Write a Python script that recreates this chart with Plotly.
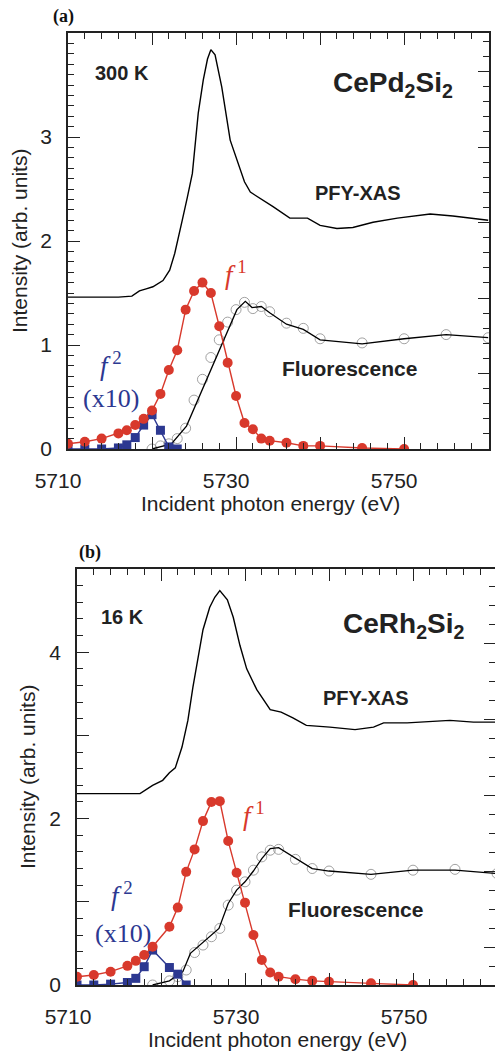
import plotly.graph_objects as go

W, H = 495, 1051

# ---------------- Panel (a) CePd2Si2, 300 K ----------------
a_pfy_e = [5710, 5712, 5714, 5716, 5717.6, 5718.5, 5719.3, 5720.1, 5721.3, 5722.1, 5722.7, 5723.0,
           5723.6, 5724.2, 5724.8, 5725.5, 5726.1, 5726.6, 5727.0, 5727.5, 5728.3, 5729.3, 5730.5,
           5731.0, 5731.7, 5732.9, 5734.4, 5736.4, 5738.5, 5740.0, 5742.0, 5743.9, 5746.3, 5749.2,
           5751.5, 5753.1, 5755.8, 5758.2, 5760.0]
a_pfy_i = [1.46, 1.46, 1.46, 1.46, 1.47, 1.52, 1.54, 1.56, 1.62, 1.72, 1.88, 1.98,
           2.20, 2.42, 2.65, 3.23, 3.55, 3.75, 3.84, 3.79, 3.48, 2.97, 2.68,
           2.57, 2.47, 2.41, 2.33, 2.22, 2.22, 2.15, 2.12, 2.13, 2.18, 2.22,
           2.24, 2.26, 2.24, 2.22, 2.20]

a_fl_e = [5720, 5721, 5722, 5723, 5724, 5725, 5726, 5727, 5728, 5729, 5730, 5731, 5732, 5733,
          5734, 5736, 5738, 5740, 5745, 5750, 5755, 5760]
a_fl_i = [0.0, 0.03, 0.05, 0.10, 0.20, 0.47, 0.67, 0.88, 1.05, 1.22, 1.34, 1.41, 1.35, 1.37,
          1.32, 1.21, 1.16, 1.06, 1.02, 1.06, 1.10, 1.07]

a_flline_e = [5720, 5722.3, 5724.1, 5730.1, 5731.1, 5731.9, 5733, 5734, 5736, 5738, 5740,
              5745, 5750, 5755, 5760]
a_flline_i = [0.0, 0.05, 0.22, 1.34, 1.42, 1.36, 1.37, 1.31, 1.20, 1.15, 1.05,
              1.01, 1.06, 1.10, 1.07]

a_f1_e = [5710, 5712, 5714, 5716, 5717, 5718, 5719, 5720, 5721, 5722, 5723, 5724, 5725, 5726,
          5727, 5728, 5729, 5730, 5731, 5732, 5733, 5734, 5736, 5738, 5740, 5745, 5750]
a_f1_i = [0.05, 0.07, 0.10, 0.15, 0.18, 0.23, 0.29, 0.37, 0.53, 0.76, 0.95, 1.34, 1.52, 1.60,
          1.50, 1.18, 0.83, 0.51, 0.25, 0.19, 0.10, 0.08, 0.06, 0.03, 0.03, 0.01, 0.0]

a_f2_e = [5710, 5712, 5714, 5716, 5717, 5718, 5719, 5720, 5721, 5722, 5723]
a_f2_i = [0.0, 0.0, 0.0, 0.01, 0.04, 0.11, 0.23, 0.33, 0.18, 0.02, 0.0]

# ---------------- Panel (b) CeRh2Si2, 16 K ----------------
b_pfy_e = [5710, 5714, 5717.5, 5719.0, 5720.2, 5721.0, 5721.7, 5722.5, 5723.2, 5723.8, 5724.4,
           5725.0, 5725.8, 5726.4, 5727.0, 5727.9, 5728.6, 5729.4, 5730.2, 5731.4, 5733.0,
           5734.3, 5735.7, 5737.3, 5740.1, 5743.1, 5745.3, 5746.5, 5749.3, 5752.0, 5754.4,
           5757.2, 5759.8]
b_pfy_i = [2.30, 2.30, 2.30, 2.40, 2.46, 2.55, 2.61, 2.86, 3.18, 3.58, 3.91,
           4.27, 4.54, 4.66, 4.74, 4.63, 4.42, 4.08, 3.80, 3.55, 3.31,
           3.28, 3.21, 3.12, 3.10, 3.07, 3.10, 3.15, 3.15, 3.17, 3.18,
           3.16, 3.16]

b_fl_e = [5719, 5721, 5722, 5723, 5724, 5725, 5726, 5727, 5728, 5729, 5730, 5731, 5732, 5733,
          5734, 5736, 5738, 5740, 5745, 5750, 5755, 5760]
b_fl_i = [0.0, 0.05, 0.10, 0.18, 0.39, 0.48, 0.58, 0.68, 0.96, 1.14, 1.24, 1.38, 1.54, 1.62,
          1.63, 1.51, 1.40, 1.37, 1.33, 1.38, 1.39, 1.34]

b_flline_e = [5719, 5721, 5722, 5722.6, 5723.5, 5726.9, 5728, 5729, 5730, 5731, 5732, 5733,
              5734, 5738, 5740, 5745, 5750, 5755, 5760]
b_flline_i = [0.0, 0.05, 0.12, 0.16, 0.38, 0.68, 0.98, 1.14, 1.24, 1.37, 1.52, 1.64,
              1.65, 1.40, 1.37, 1.33, 1.38, 1.38, 1.34]

b_f1_e = [5710, 5712, 5714, 5716, 5717, 5718, 5719, 5721, 5722, 5723, 5724, 5725, 5726, 5727,
          5728, 5729, 5730, 5731, 5732, 5733, 5734, 5736, 5738, 5740, 5745, 5750]
b_f1_i = [0.10, 0.12, 0.16, 0.23, 0.29, 0.36, 0.46, 0.70, 0.93, 1.36, 1.63, 1.97, 2.20, 2.21,
          1.73, 1.35, 0.99, 0.60, 0.30, 0.15, 0.10, 0.07, 0.05, 0.04, 0.02, 0.0]

b_f2_e = [5710, 5712, 5714, 5716, 5717, 5718, 5719, 5721, 5722, 5723]
b_f2_i = [0.0, 0.0, 0.01, 0.03, 0.08, 0.22, 0.42, 0.21, 0.13, 0.0]

x_tickvals = [5710, 5720, 5730, 5740, 5750, 5760]
x_ticktext = ["5710", "", "5730", "", "5750", ""]
a_y_tickvals = [0, 1, 2, 3]
a_y_ticktext = ["0", "1", "2", "3"]
b_y_tickvals = [0, 1, 2, 3, 4, 5]
b_y_ticktext = ["0", "", "2", "", "4", ""]

RED = "#d8392c"
BLUE = "#2c3891"
GRAY = "#8a8a8a"
INK = "#222222"
SANS = "Liberation Sans, Arial, sans-serif"
SERIF = "Liberation Serif, Times New Roman, serif"


def px(x):
    return x / W


def py(y):
    return 1 - y / H


fig = go.Figure()


def add_panel(xa, ya, pe, pi, fe, fi, fle, fli, f1e, f1i, f2e, f2i):
    fig.add_trace(go.Scatter(x=pe, y=pi, mode="lines", line=dict(color="black", width=1.4),
                             xaxis=xa, yaxis=ya, showlegend=False, hoverinfo="skip"))
    fig.add_trace(go.Scatter(x=fe, y=fi, mode="markers",
                             marker=dict(symbol="circle-open", size=10, color=GRAY,
                                         line=dict(width=0.8, color=GRAY)),
                             xaxis=xa, yaxis=ya, showlegend=False, hoverinfo="skip"))
    fig.add_trace(go.Scatter(x=fle, y=fli, mode="lines", line=dict(color="black", width=1.3),
                             xaxis=xa, yaxis=ya, showlegend=False, hoverinfo="skip"))
    fig.add_trace(go.Scatter(x=f2e, y=f2i, mode="lines+markers",
                             line=dict(color=BLUE, width=1.4),
                             marker=dict(symbol="square", size=9, color=BLUE),
                             xaxis=xa, yaxis=ya, showlegend=False, hoverinfo="skip"))
    fig.add_trace(go.Scatter(x=f1e, y=f1i, mode="lines+markers",
                             line=dict(color=RED, width=1.4),
                             marker=dict(symbol="circle", size=10, color=RED),
                             xaxis=xa, yaxis=ya, showlegend=False, hoverinfo="skip"))


add_panel("x", "y", a_pfy_e, a_pfy_i, a_fl_e, a_fl_i, a_flline_e, a_flline_i,
          a_f1_e, a_f1_i, a_f2_e, a_f2_i)
add_panel("x2", "y2", b_pfy_e, b_pfy_i, b_fl_e, b_fl_i, b_flline_e, b_flline_i,
          b_f1_e, b_f1_i, b_f2_e, b_f2_i)

# dummy traces binding the right-hand tick axes
fig.add_trace(go.Scatter(x=[5710], y=[0], mode="markers", marker=dict(opacity=0),
                         xaxis="x", yaxis="y3", showlegend=False, hoverinfo="skip"))
fig.add_trace(go.Scatter(x=[5710], y=[0], mode="markers", marker=dict(opacity=0),
                         xaxis="x2", yaxis="y4", showlegend=False, hoverinfo="skip"))

tickfont = dict(family=SANS, size=21, color=INK)

common_x = dict(tickmode="array", tickvals=x_tickvals, ticktext=x_ticktext,
                ticks="inside", ticklen=12, tickwidth=1.2, tickcolor=INK,
                showline=True, linecolor=INK, linewidth=1.6, mirror="ticks",
                showgrid=False, zeroline=False, tickfont=tickfont, automargin=False,
                ticklabelstandoff=12,
                minor=dict(dtick=2, ticks="inside", ticklen=6, tickwidth=1.1, tickcolor=INK))

common_y = dict(tickmode="array", ticks="inside", ticklen=12, tickwidth=1.2, tickcolor=INK,
                showline=True, linecolor=INK, linewidth=1.6, mirror=False, automargin=False,
                showgrid=False, zeroline=False, tickfont=tickfont, ticklabelstandoff=10)

right_common = dict(side="right", ticks="inside", tickmode="linear", tickwidth=1.1,
                    tickcolor=INK, ticklen=11, showticklabels=False, showgrid=False,
                    zeroline=False, linecolor=INK, linewidth=1.6, automargin=False)

fig.update_layout(
    width=W, height=H, autosize=False,
    margin=dict(l=0, r=0, t=0, b=0, autoexpand=False),
    paper_bgcolor="white", plot_bgcolor="white",
    xaxis=dict(domain=[px(68), px(489)], anchor="y", range=[5710, 5760.1],
               ticklabelshift=-10, **common_x),
    yaxis=dict(domain=[py(449), py(33)], anchor="x", range=[0, 4],
               tickvals=a_y_tickvals, ticktext=a_y_ticktext,
               minor=dict(dtick=0.1, ticks="inside", ticklen=6, tickwidth=1.1, tickcolor=INK),
               **common_y),
    yaxis3=dict(overlaying="y", anchor="x", range=[0, 27.55], tick0=0, dtick=5, showline=True,
                minor=dict(dtick=1, ticks="inside", ticklen=6, tickwidth=1.1, tickcolor=INK),
                **right_common),
    xaxis2=dict(domain=[px(77), 1.0], anchor="y2", range=[5710, 5759.76],
                ticklabelshift=-9, **common_x),
    yaxis2=dict(domain=[py(985), py(569)], anchor="x2", range=[0, 5],
                tickvals=b_y_tickvals, ticktext=b_y_ticktext,
                minor=dict(dtick=0.2, ticks="inside", ticklen=6, tickwidth=1.1, tickcolor=INK),
                **common_y),
    yaxis4=dict(overlaying="y2", anchor="x2", range=[0, 21.9], tick0=2, dtick=4, showline=False,
                minor=dict(dtick=1, ticks="inside", ticklen=6, tickwidth=1.1, tickcolor=INK),
                **right_common),
)


def ann(text, x, y, size, color=INK, family=SANS, angle=0, xanchor="center"):
    fig.add_annotation(text=text, x=px(x), y=py(y), xref="paper", yref="paper",
                       showarrow=False, xanchor=xanchor, yanchor="middle", textangle=angle,
                       font=dict(family=family, size=size, color=color))


# panel labels
ann("<b>(a)</b>", 63.5, 17, 18, color="#111111", family=SERIF)
ann("<b>(b)</b>", 90, 552, 18, color="#111111", family=SERIF)

# axis titles
ann("Intensity (arb. units)", 20, 241, 21, angle=-90)
ann("Incident photon energy (eV)", 270, 503, 21)
ann("Intensity (arb. units)", 27, 777, 21, angle=-90)
ann("Incident photon energy (eV)", 277, 1039, 21)

# panel (a) texts
ann("<b>300 K</b>", 121.5, 73, 20)
ann("<b>CePd<sub>2</sub>Si<sub>2</sub></b>", 393, 85, 28)
ann("<b>PFY-XAS</b>", 358, 193, 20)
ann("<b>Fluorescence</b>", 349, 368, 21)
ann("<i>f</i><sup> 1</sup>", 236, 273, 27, color=RED, family=SERIF)
ann("<i>f</i><sup> 2</sup>", 111, 364, 27, color=BLUE, family=SERIF)
ann("(x10)", 111, 398, 26, color=BLUE, family=SERIF)

# panel (b) texts
ann("<b>16 K</b>", 122.5, 617, 20)
ann("<b>CeRh<sub>2</sub>Si<sub>2</sub></b>", 404, 625, 28)
ann("<b>PFY-XAS</b>", 366, 697.5, 20)
ann("<b>Fluorescence</b>", 355, 909, 21)
ann("<i>f</i><sup> 1</sup>", 254, 814, 27, color=RED, family=SERIF)
ann("<i>f</i><sup> 2</sup>", 122, 894, 27, color=BLUE, family=SERIF)
ann("(x10)", 123, 933, 26, color=BLUE, family=SERIF)

fig.write_html("out.html")
